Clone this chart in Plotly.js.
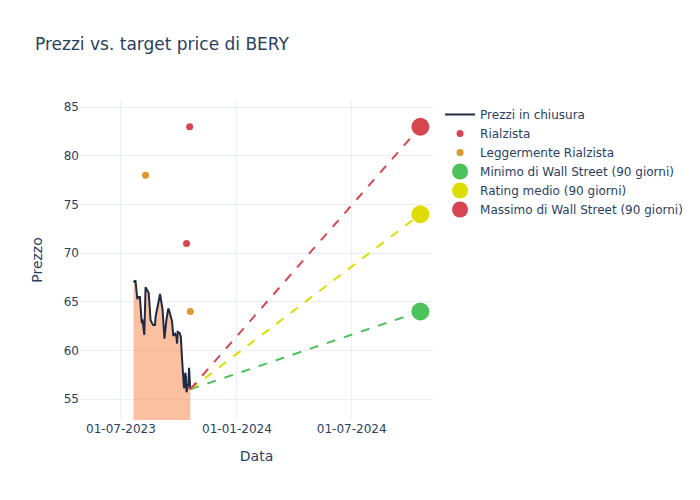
<!DOCTYPE html>
<html>
<head>
<meta charset="utf-8">
<script src="https://cdn.plot.ly/plotly-3.0.1.min.js"></script>
<style>html,body{margin:0;padding:0;background:#fff;}#chart{width:700px;height:500px;}</style>
</head>
<body>
<div id="chart"></div>
<script>
const priceDates = ['2023-07-21','2023-07-24','2023-07-27','2023-07-28','2023-07-31','2023-08-03','2023-08-04','2023-08-07','2023-08-09','2023-08-11','2023-08-14','2023-08-17','2023-08-21','2023-08-24','2023-08-25','2023-08-29','2023-08-31','2023-09-01','2023-09-05','2023-09-07','2023-09-08','2023-09-11','2023-09-12','2023-09-14','2023-09-15','2023-09-18','2023-09-20','2023-09-22','2023-09-25','2023-09-27','2023-09-28','2023-09-29','2023-10-02','2023-10-04','2023-10-05','2023-10-06','2023-10-09','2023-10-10','2023-10-11','2023-10-12','2023-10-13','2023-10-16','2023-10-17','2023-10-18','2023-10-19'];
const priceValues = [67.0,67.2,65.25,65.5,65.5,62.8,63.2,61.6,66.5,66.2,65.9,63.1,62.6,62.6,63.5,64.8,65.6,65.8,64.2,62.5,61.2,63.1,63.5,64.3,64.2,63.5,63.0,61.5,61.7,61.4,60.7,61.9,61.8,61.4,59.5,59.0,56.1,56.3,57.7,57.3,55.7,56.6,58.2,56.4,56.0];

const bullishDates = ['2023-10-18','2023-10-13'];
const bullishValues = [83, 71];
const slightlyBullishDates = ['2023-08-09','2023-10-19'];
const slightlyBullishValues = [78, 64];

const targetDate = '2024-10-18';
const targetLow = 64;
const targetAvg = 74;
const targetHigh = 83;

const xRange = ['2023-04-27','2024-11-07'];
const yRange = [52.84, 85.75];
const xTicks = ['2023-07-01','2024-01-01','2024-07-01'];
const yTicks = [55,60,65,70,75,80,85];

const lastDate = priceDates[priceDates.length-1];
const lastPrice = priceValues[priceValues.length-1];

const traces = [
  {x: priceDates, y: priceValues, type:'scatter', mode:'lines', fill:'tozeroy',
   fillcolor:'rgba(246,140,80,0.55)', line:{width:0, color:'rgba(0,0,0,0)'}, showlegend:false, hoverinfo:'skip'},
  {x: priceDates, y: priceValues, type:'scatter', mode:'lines',
   line:{color:'#1f2a44', width:2}, name:'Prezzi in chiusura'},
  {x: bullishDates, y: bullishValues, type:'scatter', mode:'markers',
   marker:{color:'#d64550', size:7}, name:'Rialzista'},
  {x: slightlyBullishDates, y: slightlyBullishValues, type:'scatter', mode:'markers',
   marker:{color:'#e0962a', size:7}, name:'Leggermente Rialzista'},
  {x:[lastDate, targetDate], y:[lastPrice, targetLow], type:'scatter', mode:'lines',
   line:{color:'#4cc35a', dash:'dash', width:2}, showlegend:false, hoverinfo:'skip'},
  {x:[lastDate, targetDate], y:[lastPrice, targetAvg], type:'scatter', mode:'lines',
   line:{color:'#dfdc00', dash:'dash', width:2}, showlegend:false, hoverinfo:'skip'},
  {x:[lastDate, targetDate], y:[lastPrice, targetHigh], type:'scatter', mode:'lines',
   line:{color:'#d64550', dash:'dash', width:2}, showlegend:false, hoverinfo:'skip'},
  {x:[targetDate], y:[targetLow], type:'scatter', mode:'markers',
   marker:{color:'#4cc35a', size:18}, name:'Minimo di Wall Street (90 giorni)'},
  {x:[targetDate], y:[targetAvg], type:'scatter', mode:'markers',
   marker:{color:'#dfdc00', size:18}, name:'Rating medio (90 giorni)'},
  {x:[targetDate], y:[targetHigh], type:'scatter', mode:'markers',
   marker:{color:'#d64550', size:18}, name:'Massimo di Wall Street (90 giorni)'}
];

const layout = {
  width:700, height:500,
  template:'plotly_white',
  font:{family:'DejaVu Sans, sans-serif', color:'#2a3f5f'},
  paper_bgcolor:'#fff', plot_bgcolor:'#fff',
  title:{text:'Prezzi vs. target price di BERY', x:0.05, font:{size:17}},
  margin:{l:80, r:80, t:100, b:80},
  xaxis:{title:{text:'Data', standoff:16}, type:'date', range:xRange, tickformat:'%d-%m-%Y',
         tickvals:xTicks, gridcolor:'#EBF0F8', zeroline:false},
  yaxis:{title:{text:'Prezzo'}, range:yRange, gridcolor:'#EBF0F8', zeroline:false,
         tickvals:yTicks},
  legend:{x:1.02, y:1, font:{size:12}},
  showlegend:true
};

Plotly.newPlot('chart', traces, layout, {displayModeBar:false});
</script>
</body>
</html>
